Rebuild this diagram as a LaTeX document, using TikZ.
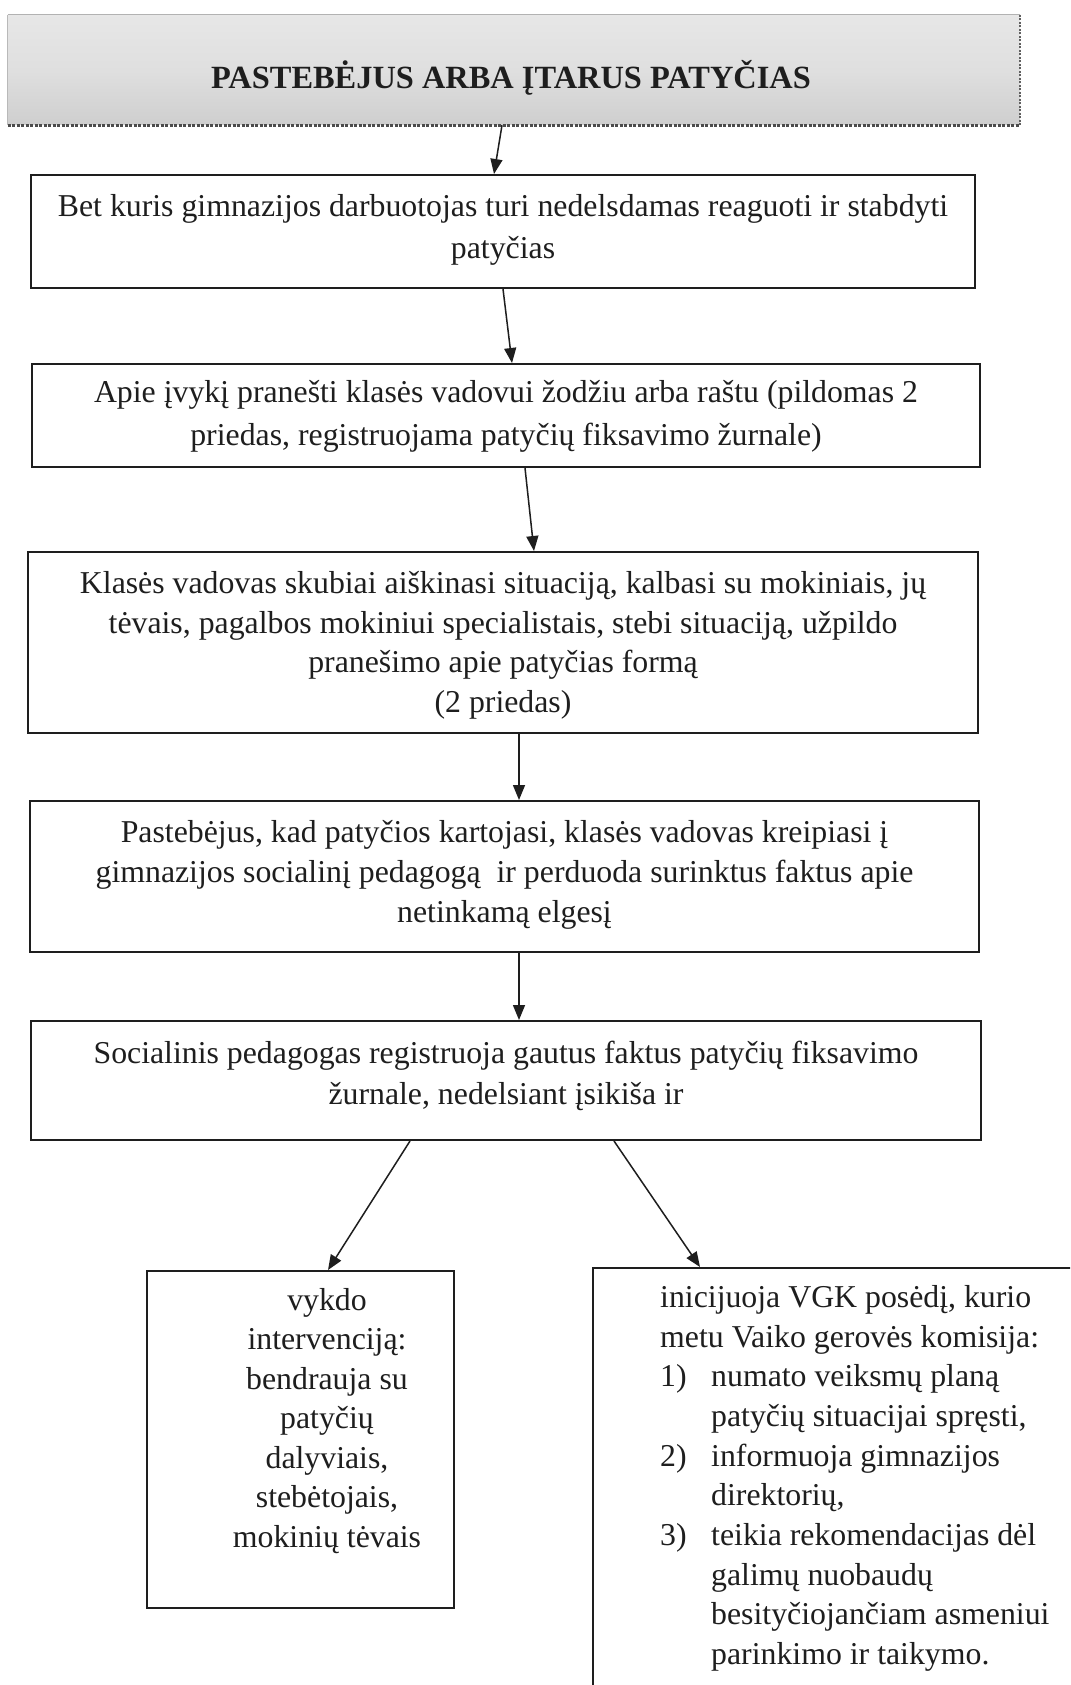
\documentclass[tikz,border=0pt]{standalone}
\usepackage{fontspec}
\setmainfont{Liberation Serif}
\usetikzlibrary{arrows.meta,calc}
\definecolor{ink}{HTML}{1E1E1E}
\newcommand{\fs}{\fontsize{31.8}{39}\selectfont}
\newcommand{\fst}{\fontsize{32.4}{39}\selectfont}
\tikzset{
  box/.style={draw=ink, line width=2pt, rectangle, inner sep=0pt},
  arr/.style={draw=ink, line width=1.5pt, -{Triangle[length=15pt,width=12pt]}},
  ln/.style={inner sep=0pt, anchor=base, font=\fs, text=ink},
  lnl/.style={ln, anchor=base west},
}
\begin{document}
\begin{tikzpicture}[x=1pt,y=-1pt]
\useasboundingbox (0,0) rectangle (1070,1685);
\fill[white] (0,0) rectangle (1070,1685);
\clip (0,0) rectangle (1070,1685);

% title box
\node[minimum width=1012pt, minimum height=110pt, inner sep=0pt,
      top color=gray!19, bottom color=gray!38, middle color=gray!25] (b0) at (514,70) {};
\draw[gray!60, line width=1pt] (b0.north west) -- (b0.north east);
\draw[gray!55, line width=1pt] (b0.north west) -- (b0.south west);
\draw[gray!75!black, line width=1.6pt, dash pattern=on 2pt off 1.5pt] (b0.north east) -- (b0.south east);
\draw[gray!60!black, line width=3pt, dash pattern=on 3pt off 1.5pt] (b0.south west) -- (b0.south east);
\node[ln, font=\fst\bfseries] (tt) at (511,89) {PASTEBĖJUS ARBA ĮTARUS PATYČIAS};

% boxes
\node[box, minimum width=944pt, minimum height=113pt] (b1) at (503,231.5) {};
\node[box, minimum width=948pt, minimum height=103pt] (b2) at (506,415.5) {};
\node[box, minimum width=950pt, minimum height=181pt] (b3) at (503,642.5) {};
\node[box, minimum width=949pt, minimum height=151pt] (b4) at (504.5,876.5) {};
\node[box, minimum width=950pt, minimum height=119pt] (b5) at (506,1080.5) {};
\node[box, minimum width=307pt, minimum height=337pt] (b6) at (300.5,1439.5) {};
\node[box, minimum width=517pt, minimum height=452pt] (b7) at (851.5,1494) {};

% texts
\node[ln] (t1a) at (503,217) {Bet kuris gimnazijos darbuotojas turi nedelsdamas reaguoti ir stabdyti};
\node[ln] (t1b) at (503,259) {patyčias};

\node[ln] (t2a) at (506,402) {Apie įvykį pranešti klasės vadovui žodžiu arba raštu (pildomas 2};
\node[ln] (t2b) at (506,445) {priedas, registruojama patyčių fiksavimo žurnale)};

\node[ln] (t3a) at (503,593) {Klasės vadovas skubiai aiškinasi situaciją, kalbasi su mokiniais, jų};
\node[ln] (t3b) at (503,633) {tėvais, pagalbos mokiniui specialistais, stebi situaciją, užpildo};
\node[ln] (t3c) at (503,672.5) {pranešimo apie patyčias formą};
\node[ln] (t3d) at (503,712) {(2 priedas)};

\node[ln] (t4a) at (504.5,842) {Pastebėjus, kad patyčios kartojasi, klasės vadovas kreipiasi į};
\node[ln] (t4b) at (504.5,882.5) {gimnazijos socialinį pedagogą\ \ ir perduoda surinktus faktus apie};
\node[ln] (t4c) at (504.5,922) {netinkamą elgesį};

\node[ln] (t5a) at (506,1063) {Socialinis pedagogas registruoja gautus faktus patyčių fiksavimo};
\node[ln] (t5b) at (506,1104) {žurnale, nedelsiant įsikiša ir};

\node[ln] (t6a) at (327,1310) {vykdo};
\node[ln] (t6b) at (327,1349.5) {intervenciją:};
\node[ln] (t6c) at (327,1389) {bendrauja su};
\node[ln] (t6d) at (327,1428.5) {patyčių};
\node[ln] (t6e) at (327,1468) {dalyviais,};
\node[ln] (t6f) at (327,1507.5) {stebėtojais,};
\node[ln] (t6g) at (327,1547) {mokinių tėvais};

\node[lnl] (t7a) at (660,1307) {inicijuoja VGK posėdį, kurio};
\node[lnl] (t7b) at (660,1347) {metu Vaiko gerovės komisija:};
\node[lnl] (n1) at (660,1386.5) {1)};
\node[lnl] (t7c) at (711,1386.5) {numato veiksmų planą};
\node[lnl] (t7d) at (711,1426) {patyčių situacijai spręsti,};
\node[lnl] (n2) at (660,1466) {2)};
\node[lnl] (t7e) at (711,1466) {informuoja gimnazijos};
\node[lnl] (t7f) at (711,1505.5) {direktorių,};
\node[lnl] (n3) at (660,1545) {3)};
\node[lnl] (t7g) at (711,1545) {teikia rekomendacijas dėl};
\node[lnl] (t7h) at (711,1585) {galimų nuobaudų};
\node[lnl] (t7i) at (711,1624.5) {besityčiojančiam asmeniui};
\node[lnl] (t7j) at (711,1664) {parinkimo ir taikymo.};

% connectors
\draw[arr] ([xshift=-12pt]b0.south) -- ([xshift=-9pt]b1.north);
\draw[arr] ([xshift=0pt]b1.south) -- ([xshift=6pt]b2.north);
\draw[arr] ([xshift=19pt]b2.south) -- ([xshift=31pt]b3.north);
\draw[arr] ([xshift=16pt]b3.south) -- ([xshift=14.5pt]b4.north);
\draw[arr] ([xshift=14.5pt]b4.south) -- ([xshift=13pt]b5.north);
\draw[arr] ([xshift=-96pt]b5.south) -- ([xshift=27.5pt]b6.north);
\draw[arr] ([xshift=108pt]b5.south) -- ([xshift=108pt]b7.north west);
\end{tikzpicture}
\end{document}
